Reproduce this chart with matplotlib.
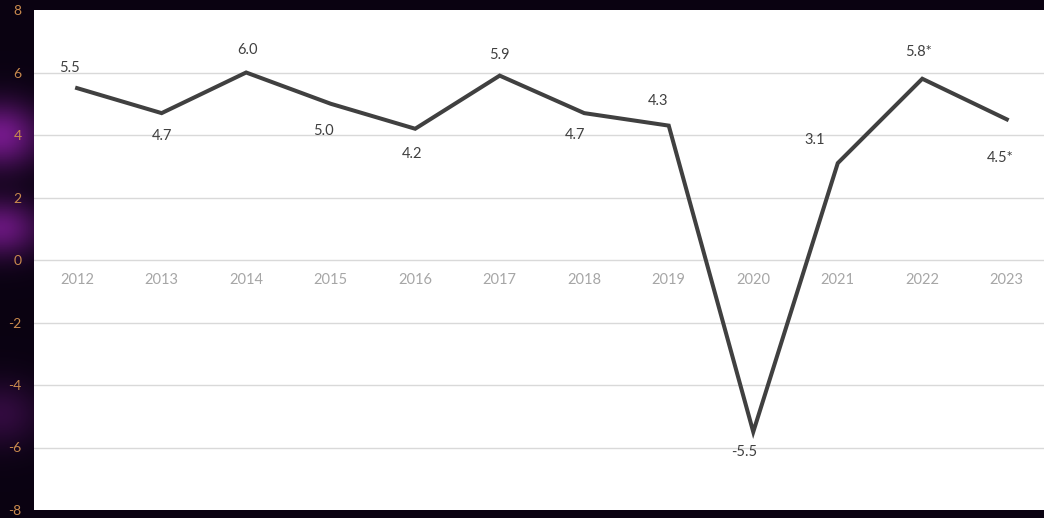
import matplotlib
matplotlib.use("Agg")
import matplotlib.pyplot as plt
import numpy as np

years = ["2012", "2013", "2014", "2015", "2016", "2017", "2018", "2019", "2020", "2021", "2022", "2023"]
growth = [5.5, 4.7, 6.0, 5.0, 4.2, 5.9, 4.7, 4.3, -5.5, 3.1, 5.8, 4.5]
value_labels = ["5.5", "4.7", "6.0", "5.0", "4.2", "5.9", "4.7", "4.3", "-5.5", "3.1", "5.8*", "4.5*"]
y_ticks = [-8, -6, -4, -2, 0, 2, 4, 6, 8]

# label offsets in pixels (dx, dy) – layout only
label_offsets = [(-8, 20), (0, -23), (1, 23), (-7, -27), (-3, -25), (0, 21), (-9, -22), (-11, 25),
                 (-9, -20), (-23, 23), (-4, 27), (-7, -39)]

plt.rcParams['font.family'] = ['Lato', 'DejaVu Sans']

W, H = 1044, 518
fig = plt.figure(figsize=(W / 100, H / 100), dpi=100)
fig.patch.set_facecolor("#0b0312")

# background glow
bg = fig.add_axes([0, 0, 1, 1])
bg.set_axis_off()
yy, xx = np.mgrid[0:1:300j, 0:1:600j]
base = np.array([0.04, 0.01, 0.07])
glow = np.array([0.55, 0.12, 0.65])
g = 0.8 * np.exp(-((xx - 0.0) ** 2 / 0.0015 + (yy - 0.26) ** 2 / 0.004))
g += 0.7 * np.exp(-((xx - 0.0) ** 2 / 0.0015 + (yy - 0.44) ** 2 / 0.003))
g += 0.3 * np.exp(-((xx - 0.0) ** 2 / 0.0015 + (yy - 0.80) ** 2 / 0.004))
g = np.clip(g, 0, 1)
img = base[None, None, :] * (1 - g[..., None]) + glow[None, None, :] * g[..., None]
bg.imshow(img, extent=[0, 1, 0, 1], aspect="auto", origin="upper")
bg.set_xlim(0, 1)
bg.set_ylim(0, 1)

left, right, top, bottom = 34, 1044, 10, 510
ax = fig.add_axes([left / W, 1 - bottom / H, (right - left) / W, (bottom - top) / H])
ax.set_facecolor("white")
x = np.arange(len(years))
ax.set_xlim(-0.51, 11.44)
ax.set_ylim(-8, 8)
for s in ax.spines.values():
    s.set_visible(False)
ax.set_yticks(y_ticks)
ax.set_yticklabels([str(v) for v in y_ticks], color="#c98a4e", fontsize=10)
ax.tick_params(axis="y", length=0, pad=9)
ax.set_xticks([])
for t in [-6, -4, -2, 0, 2, 4, 6]:
    ax.axhline(t, color="#d9d9d9", lw=1.0, zorder=1)

for xi, yr in zip(x, years):
    ax.text(xi, -0.64, yr, ha="center", va="center",
            color="#a6a6a6", fontsize=10.5, zorder=3)

ax.plot(x, growth, color="#404040", lw=2.9, solid_joinstyle="miter", zorder=4)

for xi, v, lab, (dx, dy) in zip(x, growth, value_labels, label_offsets):
    ax.annotate(lab, (xi, v), xytext=(dx * 0.72, dy * 0.72), textcoords="offset points",
                ha="center", va="center", color="#404040", fontsize=10.5, zorder=5)

fig.savefig("out.png", dpi=100, facecolor=fig.get_facecolor())
